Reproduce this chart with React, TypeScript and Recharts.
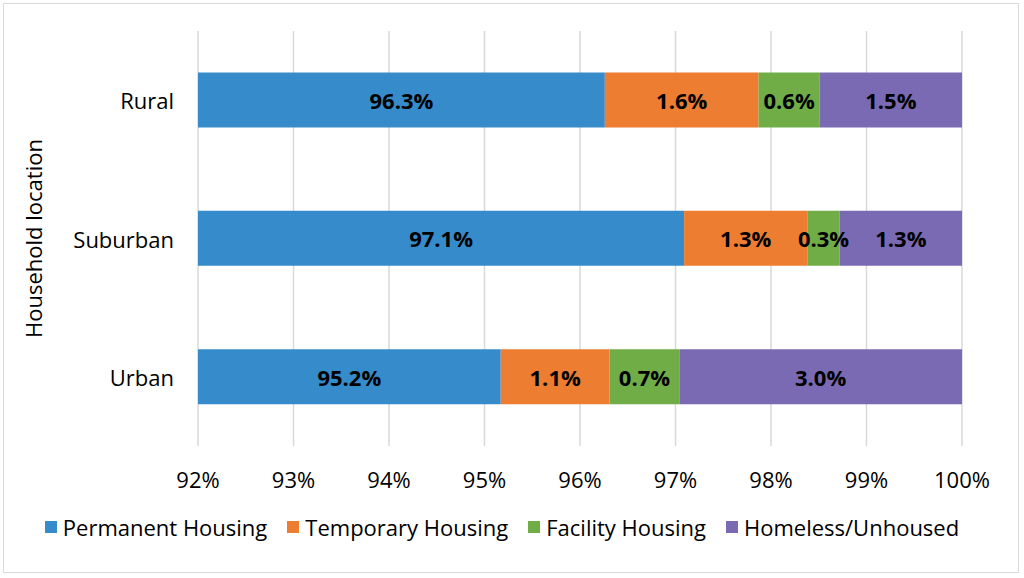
import React from 'react';
import { BarChart, Bar, XAxis, YAxis, CartesianGrid, Legend, LabelList } from 'recharts';

const categories = ['Rural', 'Suburban', 'Urban'];
const permanentHousing = [96.26, 97.09, 95.17];
const temporaryHousing = [1.61, 1.29, 1.14];
const facilityHousing = [0.64, 0.34, 0.73];
const homelessUnhoused = [1.49, 1.28, 2.96];
const xTicks = [92, 93, 94, 95, 96, 97, 98, 99, 100];

const series = [
  { key: 'permanent', name: 'Permanent Housing', color: '#368BCB' },
  { key: 'temporary', name: 'Temporary Housing', color: '#ED7D31' },
  { key: 'facility', name: 'Facility Housing', color: '#70AD47' },
  { key: 'homeless', name: 'Homeless/Unhoused', color: '#7A6AB3' },
];

const data = categories.map((c, i) => ({
  name: c,
  permanent: permanentHousing[i],
  temporary: temporaryHousing[i],
  facility: facilityHousing[i],
  homeless: homelessUnhoused[i],
}));

const W = 1024;
const H = 578;
const FONT = '"Open Sans", "Noto Sans", sans-serif';
const FS = 22;
const MARGIN = { top: 31, right: 62, left: 0, bottom: 31 };
const Y_AXIS_W = 198;
const X_AXIS_H = 61;
const LEGEND_H = 40;
const PLOT_LEFT = MARGIN.left + Y_AXIS_W;
const PLOT_BOTTOM = H - MARGIN.bottom - LEGEND_H - X_AXIS_H;

const renderBarLabel = (props: any) => {
  const vb = props.viewBox || props;
  const x = Number(props.x ?? vb.x);
  const y = Number(props.y ?? vb.y);
  const w = Number(props.width ?? vb.width);
  const h = Number(props.height ?? vb.height);
  const left = Math.max(x, PLOT_LEFT);
  const right = x + w;
  const cx = (left + right) / 2;
  const cy = y + h / 2;
  return (
    <text
      x={cx}
      y={cy}
      textAnchor="middle"
      dominantBaseline="central"
      fontFamily={FONT}
      fontSize={FS}
      fontWeight={700}
      fill="#000"
    >
      {Number(props.value).toFixed(1)}%
    </text>
  );
};

const XTick = (props: any) => {
  const { x, payload } = props;
  return (
    <text
      x={x}
      y={PLOT_BOTTOM + 33}
      textAnchor="middle"
      dominantBaseline="central"
      fontFamily={FONT}
      fontSize={FS}
      fill="#000"
    >
      {payload.value}%
    </text>
  );
};

const YTick = (props: any) => {
  const { y, payload } = props;
  return (
    <text
      x={PLOT_LEFT - 24}
      y={y}
      textAnchor="end"
      dominantBaseline="central"
      fontFamily={FONT}
      fontSize={FS}
      fill="#000"
    >
      {payload.value}
    </text>
  );
};

const YLabel = (props: any) => {
  const vb = props.viewBox || {};
  const cx = (vb.x ?? 0) + 33;
  const cy = (vb.y ?? 0) + (vb.height ?? 0) / 2;
  return (
    <text
      x={cx}
      y={cy}
      transform={`rotate(-90, ${cx}, ${cy})`}
      textAnchor="middle"
      dominantBaseline="central"
      fontFamily={FONT}
      fontSize={FS}
      fill="#000"
    >
      Household location
    </text>
  );
};

const LegendContent = () => (
  <div
    style={{
      display: 'flex',
      justifyContent: 'center',
      alignItems: 'center',
      height: LEGEND_H,
      fontFamily: FONT,
      fontSize: FS,
      color: '#000',
      paddingRight: 20,
      whiteSpace: 'nowrap',
    }}
  >
    {series.map((s, i) => (
      <div key={s.key} style={{ display: 'flex', alignItems: 'center', marginLeft: i === 0 ? 0 : 20 }}>
        <span style={{ display: 'inline-block', width: 12, height: 12, background: s.color, marginRight: 6 }} />
        <span>{s.name}</span>
      </div>
    ))}
  </div>
);

export default function App() {
  return (
    <div style={{ position: 'absolute', left: 0, top: 0, width: W, height: H, background: '#fff' }}>
      <div
        style={{
          position: 'absolute',
          left: 3,
          top: 3,
          width: 1014,
          height: 568,
          border: '1px solid #d9d9d9',
        }}
      />
      <BarChart
        width={W}
        height={H}
        data={data}
        layout="vertical"
        margin={MARGIN}
        barCategoryGap="30%"
      >
        <CartesianGrid horizontal={false} vertical stroke="#d9d9d9" strokeWidth={1.5} />
        <XAxis
          type="number"
          domain={[92, 100]}
          ticks={xTicks}
          allowDataOverflow
          axisLine={false}
          tickLine={false}
          height={X_AXIS_H}
          tick={<XTick />}
          interval={0}
        />
        <YAxis
          type="category"
          dataKey="name"
          width={Y_AXIS_W}
          axisLine={false}
          tickLine={false}
          tick={<YTick />}
          label={<YLabel />}
        />
        <Legend
          verticalAlign="bottom"
          height={LEGEND_H}
          wrapperStyle={{ left: 0, width: W }}
          content={<LegendContent />}
        />
        {series.map((s) => (
          <Bar key={s.key} dataKey={s.key} name={s.name} stackId="a" fill={s.color} isAnimationActive={false}>
            <LabelList dataKey={s.key} content={renderBarLabel} />
          </Bar>
        ))}
      </BarChart>
    </div>
  );
}
